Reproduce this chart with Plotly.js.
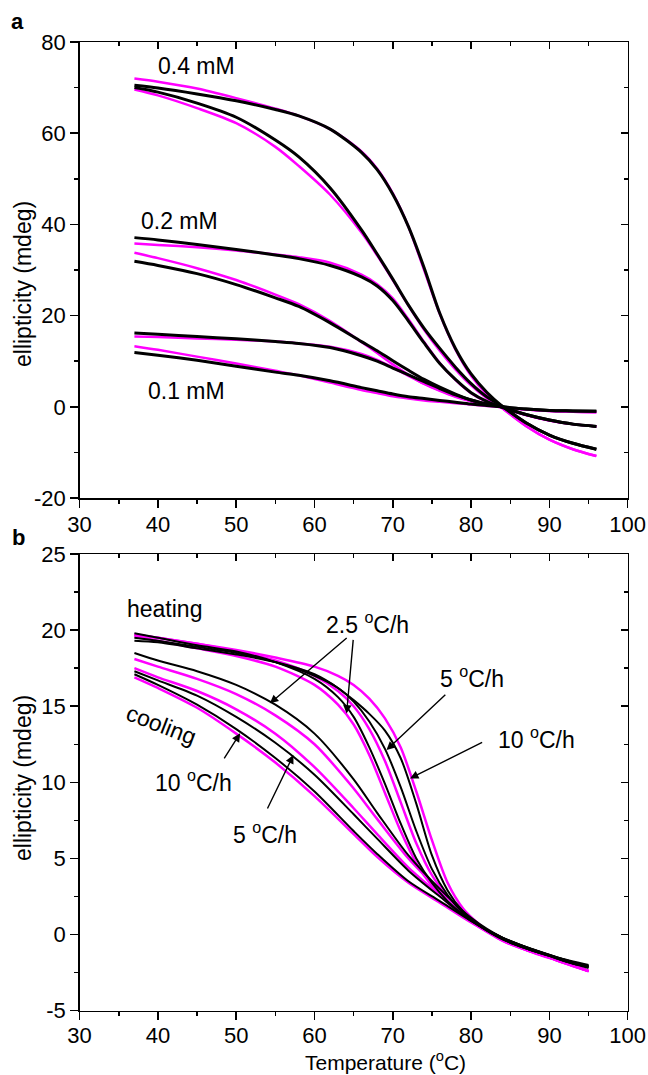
<!DOCTYPE html>
<html>
<head>
<meta charset="utf-8">
<script src="https://cdn.plot.ly/plotly-3.0.1.min.js"></script>
<style>html,body{margin:0;padding:0;background:#fff;}#chart{width:648px;height:1075px;}</style>
</head>
<body>
<div id="chart"></div>
<script>
// ---------- Panel a data ----------
const tempA = [37, 40, 45, 50, 55, 58, 62, 66, 68, 70, 72, 74, 76, 78, 80, 82, 84, 87, 90, 93, 96];
const a04HeatData = [70.5, 69.9, 68.6, 67.1, 65.2, 63.8, 60.9, 55.8, 52.0, 46.6, 39.5, 30.5, 20.5, 12.8, 7.2, 3.2, 0.1, -3.5, -6.2, -8.0, -9.3];
const a04HeatFit  = [72.0, 71.3, 69.8, 67.7, 65.4, 63.8, 60.9, 56.0, 52.2, 46.8, 39.5, 30.0, 20.4, 12.6, 6.8, 2.7, -0.3, -4.2, -7.2, -9.3, -10.8];
const a04CoolData = [70.0, 69.0, 66.6, 63.5, 58.5, 54.8, 48.0, 38.8, 33.5, 28.0, 22.3, 17.2, 12.8, 8.7, 5.1, 2.2, 0.1, -3.5, -6.2, -8.0, -9.3];
const a04CoolFit  = [69.6, 68.3, 65.5, 62.2, 57.0, 52.8, 46.5, 38.2, 33.2, 27.8, 22.2, 16.9, 12.3, 8.2, 4.7, 1.9, -0.3, -4.2, -7.2, -9.3, -10.8];
const a02HeatData = [37.1, 36.6, 35.6, 34.5, 33.3, 32.5, 31.0, 28.5, 26.5, 23.3, 18.8, 14.0, 9.5, 6.0, 3.1, 1.2, -0.1, -1.7, -2.9, -3.8, -4.3];
const a02HeatFit  = [35.8, 35.5, 35.0, 34.3, 33.4, 32.8, 31.6, 29.0, 26.9, 23.8, 19.2, 14.2, 9.6, 5.9, 3.0, 1.1, -0.2, -1.8, -3.0, -3.8, -4.3];
const a02CoolData = [31.9, 31.0, 29.2, 26.8, 23.9, 22.0, 18.4, 14.3, 12.3, 10.1, 8.0, 6.0, 4.3, 2.8, 1.5, 0.6, -0.1, -1.7, -2.9, -3.8, -4.3];
const a02CoolFit  = [33.8, 32.6, 30.4, 27.8, 24.6, 22.5, 18.8, 14.2, 11.8, 9.3, 7.0, 5.0, 3.5, 2.2, 1.2, 0.4, -0.2, -1.8, -3.0, -3.8, -4.3];
const a01HeatData = [16.2, 15.9, 15.4, 14.9, 14.3, 13.9, 13.0, 11.2, 10.0, 8.5, 7.0, 5.5, 4.0, 2.6, 1.5, 0.6, 0.0, -0.5, -0.8, -0.9, -1.0];
const a01HeatFit  = [15.4, 15.3, 15.0, 14.7, 14.3, 13.9, 13.2, 11.6, 10.3, 8.6, 6.8, 5.1, 3.6, 2.3, 1.3, 0.5, -0.1, -0.6, -0.9, -1.1, -1.2];
const a01CoolData = [11.9, 11.3, 10.2, 8.9, 7.6, 6.9, 5.7, 4.2, 3.5, 2.8, 2.2, 1.8, 1.4, 1.0, 0.6, 0.3, 0.0, -0.5, -0.8, -0.9, -1.0];
const a01CoolFit  = [13.3, 12.5, 11.0, 9.5, 7.9, 6.9, 5.3, 3.7, 3.0, 2.3, 1.8, 1.4, 1.1, 0.8, 0.5, 0.2, -0.1, -0.6, -0.9, -1.1, -1.2];

// ---------- Panel b data ----------
const tempHeat = [37, 40, 45, 50, 55, 60, 63, 65, 67, 69, 71, 73, 75, 77, 79, 81, 84, 87, 90, 93, 95];
const heat25Fit  = [19.6, 19.3, 18.8, 18.3, 17.6, 16.4, 15.1, 13.8, 11.8, 9.3, 6.8, 4.7, 3.2, 2.1, 1.2, 0.5, -0.4, -1.0, -1.5, -2.0, -2.4];
const heat25Data = [19.8, 19.5, 19.0, 18.6, 17.9, 16.8, 15.6, 14.3, 12.3, 9.9, 7.3, 5.0, 3.4, 2.2, 1.3, 0.6, -0.3, -0.9, -1.4, -1.9, -2.2];
const heat5Fit   = [19.7, 19.5, 19.1, 18.6, 18.0, 17.0, 16.0, 15.0, 13.5, 11.4, 8.7, 6.0, 3.9, 2.5, 1.4, 0.6, -0.3, -1.0, -1.5, -2.0, -2.4];
const heat5Data  = [19.5, 19.3, 18.9, 18.5, 17.9, 17.0, 16.2, 15.3, 14.0, 12.2, 9.7, 6.8, 4.3, 2.6, 1.4, 0.6, -0.3, -0.9, -1.4, -1.9, -2.1];
const heat10Data = [19.3, 19.2, 18.8, 18.4, 17.9, 17.1, 16.2, 15.4, 14.5, 13.4, 11.6, 8.6, 5.2, 2.9, 1.5, 0.6, -0.3, -0.9, -1.4, -1.9, -2.1];
const heat10Fit  = [19.7, 19.5, 19.1, 18.7, 18.2, 17.6, 17.0, 16.4, 15.5, 14.2, 12.3, 9.4, 6.2, 3.4, 1.7, 0.7, -0.4, -1.0, -1.5, -2.0, -2.4];

const tempCool = [37, 40, 45, 50, 55, 60, 65, 68, 72, 76, 80, 84, 88, 91, 95];
const cool25Data = [18.5, 18.0, 17.3, 16.4, 15.1, 13.2, 10.2, 8.0, 5.2, 3.0, 1.1, -0.2, -1.0, -1.5, -2.1];
const cool25Fit  = [18.1, 17.6, 16.8, 15.8, 14.4, 12.5, 9.6, 7.6, 5.0, 2.9, 1.0, -0.3, -1.1, -1.7, -2.4];
const cool5Fit   = [17.5, 16.9, 16.0, 14.8, 13.2, 11.0, 8.3, 6.6, 4.4, 2.6, 0.9, -0.3, -1.2, -1.7, -2.4];
const cool5Data  = [17.3, 16.7, 15.7, 14.3, 12.6, 10.5, 7.9, 6.3, 4.2, 2.5, 0.9, -0.2, -1.0, -1.5, -2.1];
const cool10Data = [17.1, 16.4, 15.1, 13.5, 11.6, 9.4, 6.8, 5.3, 3.5, 2.2, 0.9, -0.2, -1.0, -1.5, -2.0];
const cool10Fit  = [16.9, 16.2, 14.9, 13.2, 11.3, 9.1, 6.6, 5.1, 3.4, 2.1, 0.8, -0.3, -1.1, -1.7, -2.4];

// ---------- Tick labels ----------
const xTickVals = [30, 40, 50, 60, 70, 80, 90, 100];
const xTickText = ['30', '40', '50', '60', '70', '80', '90', '100'];
const aYTickVals = [-20, 0, 20, 40, 60, 80];
const aYTickText = ['-20', '0', '20', '40', '60', '80'];
const bYTickVals = [-5, 0, 5, 10, 15, 20, 25];
const bYTickText = ['-5', '0', '5', '10', '15', '20', '25'];

const BLACK = '#000000';
const MAG = '#ff00ff';
const FONT = 'Liberation Sans, Arial, Helvetica, sans-serif';
const TICKSIZE = 22;
const TEXTSIZE = 23;

function line(x, y, color, width, xa, ya) {
  return {x: x, y: y, type: 'scatter', mode: 'lines', xaxis: xa, yaxis: ya,
    line: {color: color, width: width, shape: 'spline', smoothing: 0.8},
    showlegend: false, hoverinfo: 'skip'};
}

const traces = [];
// panel a: fits first, data on top
[a04HeatFit, a04CoolFit, a02HeatFit, a02CoolFit, a01HeatFit, a01CoolFit].forEach(v => traces.push(line(tempA, v, MAG, 2.5, 'x', 'y')));
[a04HeatData, a04CoolData, a02HeatData, a02CoolData, a01HeatData, a01CoolData].forEach(v => traces.push(line(tempA, v, BLACK, 3, 'x', 'y')));
// panel b
[heat25Fit, heat5Fit, heat10Fit].forEach(v => traces.push(line(tempHeat, v, MAG, 2.5, 'x2', 'y2')));
[cool25Fit, cool5Fit, cool10Fit].forEach(v => traces.push(line(tempCool, v, MAG, 2.5, 'x2', 'y2')));
[heat25Data, heat5Data, heat10Data].forEach(v => traces.push(line(tempHeat, v, BLACK, 2, 'x2', 'y2')));
[cool25Data, cool5Data, cool10Data].forEach(v => traces.push(line(tempCool, v, BLACK, 2, 'x2', 'y2')));
// empty traces to instantiate mirror axes
traces.push({x: [], y: [], type: 'scatter', xaxis: 'x3', yaxis: 'y3', showlegend: false, hoverinfo: 'skip'});
traces.push({x: [], y: [], type: 'scatter', xaxis: 'x4', yaxis: 'y4', showlegend: false, hoverinfo: 'skip'});

const XDOM = [79.6 / 648, 627.7 / 648];
const ADOM = [1 - 498 / 1075, 1 - 42 / 1075];
const BDOM = [1 - 1010.7 / 1075, 1 - 554 / 1075];

function mainAxis(extra) {
  return Object.assign({
    showline: true, linecolor: BLACK, linewidth: 1.5, mirror: false,
    ticks: 'outside', ticklen: 8, tickwidth: 1.5, tickcolor: BLACK,
    showgrid: false, zeroline: false, fixedrange: true,
    tickfont: {family: FONT, size: TICKSIZE, color: BLACK},
    tickmode: 'array'
  }, extra);
}
function mirrorAxis(extra) {
  return Object.assign({
    showline: true, linecolor: BLACK, linewidth: 1.5,
    ticks: 'inside', ticklen: 7, tickwidth: 1.5, tickcolor: BLACK,
    showticklabels: false, showgrid: false, zeroline: false, fixedrange: true
  }, extra);
}
const xMinor = [35, 45, 55, 65, 75, 85, 95];
const aYMinor = [-10, 10, 30, 50, 70];
const bYMinor = [-2.5, 2.5, 7.5, 12.5, 17.5, 22.5];
function minor(vals, dir) {
  return {tickvals: vals, ticks: dir, ticklen: 4, tickwidth: 1.5, tickcolor: BLACK};
}

const layout = {
  width: 648, height: 1075,
  margin: {l: 0, r: 0, t: 0, b: 0},
  paper_bgcolor: '#ffffff', plot_bgcolor: 'rgba(0,0,0,0)',
  showlegend: false,
  font: {family: FONT, size: TEXTSIZE, color: BLACK},
  xaxis: mainAxis({domain: XDOM, anchor: 'y', range: [30, 100], tickvals: xTickVals, ticktext: xTickText,
    ticklabelstandoff: -2, minor: minor(xMinor, 'outside')}),
  yaxis: mainAxis({domain: ADOM, anchor: 'x', range: [-20, 80], tickvals: aYTickVals, ticktext: aYTickText,
    minor: minor(aYMinor, 'outside')}),
  xaxis3: mirrorAxis({overlaying: 'x', side: 'top', anchor: 'y', range: [30, 100], tickmode: 'array', tickvals: xTickVals,
    minor: minor(xMinor, 'inside')}),
  yaxis3: mirrorAxis({overlaying: 'y', side: 'right', anchor: 'x', range: [-20, 80], tickmode: 'array', tickvals: aYTickVals,
    minor: minor(aYMinor, 'inside')}),
  xaxis2: mainAxis({domain: XDOM, anchor: 'y2', range: [30, 100], tickvals: xTickVals, ticktext: xTickText,
    ticklabelstandoff: -4, minor: minor(xMinor, 'outside')}),
  yaxis2: mainAxis({domain: BDOM, anchor: 'x2', range: [-5, 25], tickvals: bYTickVals, ticktext: bYTickText,
    minor: minor(bYMinor, 'outside')}),
  xaxis4: mirrorAxis({overlaying: 'x2', side: 'top', anchor: 'y2', range: [30, 100], tickmode: 'array', tickvals: xTickVals,
    minor: minor(xMinor, 'inside')}),
  yaxis4: mirrorAxis({overlaying: 'y2', side: 'right', anchor: 'x2', range: [-5, 25], tickmode: 'array', tickvals: bYTickVals,
    minor: minor(bYMinor, 'inside')}),
  annotations: []
};

const ann = layout.annotations;
function txt(xref, yref, x, y, text, opts) {
  ann.push(Object.assign({xref: xref, yref: yref, x: x, y: y, text: text, showarrow: false,
    xanchor: 'center', yanchor: 'middle', font: {family: FONT, size: TEXTSIZE, color: BLACK}}, opts || {}));
}
function arrow(x0, y0, x1, y1) {
  ann.push({xref: 'x2', yref: 'y2', axref: 'x2', ayref: 'y2', x: x1, y: y1, ax: x0, ay: y0,
    text: '', showarrow: true, arrowhead: 2, arrowsize: 1.2, arrowwidth: 1.4, arrowcolor: BLACK,
    standoff: 0, startstandoff: 0});
}

// panel letters
txt('paper', 'paper', 17 / 648, 1 - 21 / 1075, '<b>a</b>', {font: {family: FONT, size: 22, color: BLACK}});
txt('paper', 'paper', 18 / 648, 1 - 537 / 1075, '<b>b</b>', {font: {family: FONT, size: 22, color: BLACK}});
// axis titles
txt('paper', 'paper', 23 / 648, 1 - 284 / 1075, 'ellipticity (mdeg)', {textangle: -90});
txt('paper', 'paper', 23 / 648, 1 - 778 / 1075, 'ellipticity (mdeg)', {textangle: -90});
txt('paper', 'paper', 385 / 648, 1 - 1061 / 1075, 'Temperature (<sup>o</sup>C)', {font: {family: FONT, size: 21, color: BLACK}});
// panel a labels
txt('x', 'y', 44.9, 74.7, '0.4 mM');
txt('x', 'y', 42.7, 40.7, '0.2 mM');
txt('x', 'y', 43.7, 3.5, '0.1 mM');
// panel b labels
txt('x2', 'y2', 40.9, 21.4, 'heating');
txt('x2', 'y2', 40.5, 13.8, 'cooling', {textangle: 21});
txt('x2', 'y2', 66.8, 20.5, '2.5 <sup>o</sup>C/h');
txt('x2', 'y2', 80.1, 16.9, '5 <sup>o</sup>C/h');
txt('x2', 'y2', 88.4, 12.9, '10 <sup>o</sup>C/h');
txt('x2', 'y2', 44.5, 10.1, '10 <sup>o</sup>C/h');
txt('x2', 'y2', 53.7, 6.7, '5 <sup>o</sup>C/h');
// arrows
arrow(64.3, 19.57, 54.3, 15.19);
arrow(64.96, 19.46, 64.1, 14.53);
arrow(76.9, 15.85, 69.2, 12.12);
arrow(81.6, 12.67, 72.2, 10.26);
arrow(48.35, 11.47, 50.5, 13.22);
arrow(53.9, 8.18, 57.3, 11.79);

Plotly.newPlot('chart', traces, layout, {staticPlot: true, displayModeBar: false});
</script>
</body>
</html>
